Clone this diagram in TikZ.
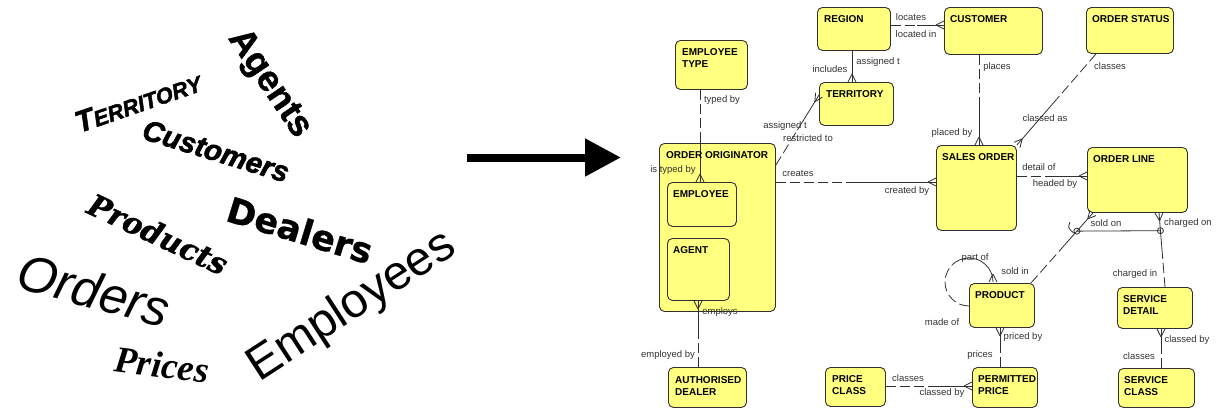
\documentclass[tikz,border=0pt]{standalone}
\usepackage{fontspec}
\setmainfont{Liberation Sans}
\newfontfamily\artsans{Liberation Sans}
\newfontfamily\artfat[BoldItalicFeatures={FakeBold=2}, BoldFeatures={FakeBold=1.2}]{Liberation Sans}
\newfontfamily\artserif{Liberation Serif}
\newfontfamily\artheavy[BoldFeatures={FakeBold=0.8}]{DejaVu Sans}
\newfontfamily\artscript[BoldItalicFeatures={FakeBold=1.2}]{DejaVu Serif}
\usetikzlibrary{calc,arrows.meta,decorations.markings}

\definecolor{entfill}{HTML}{FFFF80}
\definecolor{entline}{HTML}{303030}
\definecolor{reltext}{HTML}{333333}

\tikzset{
  ent/.style={draw=entline, fill=entfill, rounded corners=5pt, line width=0.9pt,
    anchor=north west, inner sep=0pt},
  title/.style={anchor=north west, inner sep=0pt, align=left, text=black,
    font=\bfseries\fontsize{10}{12}\selectfont},
  rel/.style={inner sep=0pt, text=reltext, font=\fontsize{9.5}{11}\selectfont},
  mand/.style={draw=entline, line width=0.8pt},
  opt/.style={draw=entline, line width=0.8pt, dash pattern=on 10pt off 4pt},
  crowend/.style={postaction={decorate, decoration={markings,
    mark=at position 1 with {\draw[solid, entline, line width=0.8pt]
      (-8pt,0pt) -- (0pt,4pt) (-8pt,0pt) -- (0pt,-4pt);}}}},
  art/.style={inner sep=0pt, text=black},
}

% relationship line: optional (dashed) half at #1, mandatory half with crow's foot at #2
\newcommand\erline[2]{%
  \draw[opt] (#1) -- ($(#1)!.5!(#2)$);
  \draw[mand, crowend] ($(#1)!.5!(#2)$) -- (#2);}

\begin{document}
\begin{tikzpicture}[x=1pt, y=-1pt]
\useasboundingbox (0,0) rectangle (1218,408);

% ---------- word cloud ----------
\node[art, rotate=19, font=\artfat\bfseries\itshape] (w-ter) at (138,102)
  {{\fontsize{30}{30}\selectfont T}{\fontsize{22}{22}\selectfont ERRITORY}};
\node[art, rotate=-56, font=\artfat\bfseries\fontsize{36}{36}\selectfont] (w-agt) at (269,84) {Agents};
\node[art, rotate=-17, font=\artfat\bfseries\itshape\fontsize{29}{29}\selectfont] (w-cus) at (216,151) {Customers};
\node[art, rotate=-25, font=\artscript\bfseries\itshape\fontsize{30}{30}\selectfont] (w-prd) at (158,234) {Products};
\node[art, rotate=-17, font=\artheavy\bfseries\fontsize{35}{35}\selectfont] (w-dlr) at (300,230) {Dealers};
\node[art, rotate=-15, font=\artsans\itshape\fontsize{51}{51}\selectfont] (w-ord) at (94,290) {Orders};
\node[art, rotate=-7, font=\artserif\bfseries\itshape\fontsize{37}{37}\selectfont] (w-prc) at (162,365) {Prices};
\node[art, rotate=33, font=\artsans\fontsize{48}{48}\selectfont] (w-emp) at (352,307) {Employees};

% ---------- big arrow ----------
\coordinate (arr-a) at (467,157.5);
\coordinate (arr-b) at (621,157.5);
\draw[line width=8pt, -{Triangle[length=36pt, width=36pt]}] (arr-a) -- (arr-b);

% ---------- entities ----------
\node[ent, minimum width=72pt,  minimum height=49pt]  (et)   at (675,40)  {};
\node[ent, minimum width=73pt,  minimum height=43pt]  (reg)  at (817,7)   {};
\node[ent, minimum width=74pt,  minimum height=43pt]  (ter)  at (819,82)  {};
\node[ent, minimum width=116pt, minimum height=168pt] (oo)   at (659,143) {};
\node[ent, minimum width=69pt,  minimum height=44pt]  (emp)  at (667,182) {};
\node[ent, minimum width=62pt,  minimum height=62pt]  (agt)  at (667,238) {};
\node[ent, minimum width=78pt,  minimum height=40pt]  (ad)   at (668,367) {};
\node[ent, minimum width=60pt,  minimum height=39pt]  (pc)   at (825,367) {};
\node[ent, minimum width=98pt,  minimum height=47pt]  (cus)  at (944,7)   {};
\node[ent, minimum width=87pt,  minimum height=46pt]  (os)   at (1086,7)  {};
\node[ent, minimum width=80pt,  minimum height=85pt]  (so)   at (936,145) {};
\node[ent, minimum width=100pt, minimum height=65pt]  (ol)   at (1087,147) {};
\node[ent, minimum width=65pt,  minimum height=44pt]  (prod) at (969,283) {};
\node[ent, minimum width=75pt,  minimum height=41pt]  (sd)   at (1117,287) {};
\node[ent, minimum width=65pt,  minimum height=40pt]  (pp)   at (972,367) {};
\node[ent, minimum width=76pt,  minimum height=39pt]  (sc)   at (1118,368) {};

% ---------- relationships ----------
\erline{reg.east |- 0,25}{cus.west |- 0,25}
\draw[mand, crowend] (reg.south -| 852,0) -- (ter.north -| 852,0);
\erline{et.south -| 700,0}{emp.north -| 700,0}
\erline{oo.east |- 0,165}{ter.west |- 0,95}
\erline{oo.east |- 0,182}{so.west |- 0,182}
\erline{cus.south -| 979,0}{so.north -| 979,0}
\erline{os.south -| 1096,0}{so.north east}
\erline{so.east |- 0,176}{ol.west |- 0,176}
\erline{prod.north -| 1031,0}{ol.south -| 1093,0}
\erline{sd.north -| 1165,0}{ol.south -| 1159,0}
\erline{pp.north -| 1000,0}{prod.south -| 1000,0}
\erline{pc.east |- 0,386}{pp.west |- 0,386}
\erline{sc.north -| 1161,0}{sd.south -| 1161,0}
\erline{ad.north -| 698,0}{agt.south -| 698,0}

% recursive "part of / made of" loop on PRODUCT
\draw[opt] (prod.west |- 0,306) arc[start angle=90, end angle=235, radius=24] coordinate (loopmid);
\draw[mand, crowend] (loopmid) arc[start angle=235, end angle=360, radius=24];

% exclusive arc across "sold on" / "charged on"
\coordinate (xa) at ($(ol.south -| 1093,0)!0.26!(prod.north -| 1031,0)$);
\coordinate (xb) at ($(ol.south -| 1159,0)!0.24!(sd.north -| 1165,0)$);
\draw[mand] (xa) -- (xb);
\draw[mand] (xa) circle (3);
\draw[mand] (xb) circle (3);
\draw[mand] ([shift={(-7,-9)}]xa) .. controls ([shift={(-9,-3)}]xa) .. ([shift={(-3,2)}]xa);

% ---------- entity titles ----------
\node[title] (et-t)   at ([shift={(7,8.5)}]et.north west)   {EMPLOYEE\\TYPE};
\node[title] (reg-t)  at ([shift={(7,8.5)}]reg.north west)  {REGION};
\node[title] (ter-t)  at ([shift={(7,8.5)}]ter.north west)  {TERRITORY};
\node[title] (oo-t)   at ([shift={(7,8.5)}]oo.north west)   {ORDER ORIGINATOR};
\node[title] (emp-t)  at ([shift={(6,8.5)}]emp.north west)  {EMPLOYEE};
\node[title] (agt-t)  at ([shift={(6,8.5)}]agt.north west)  {AGENT};
\node[title] (ad-t)   at ([shift={(7,9.5)}]ad.north west)   {AUTHORISED\\DEALER};
\node[title] (pc-t)   at ([shift={(7,8.5)}]pc.north west)   {PRICE\\CLASS};
\node[title] (cus-t)  at ([shift={(6,8.5)}]cus.north west)  {CUSTOMER};
\node[title] (os-t)   at ([shift={(6,8.5)}]os.north west)   {ORDER STATUS};
\node[title] (so-t)   at ([shift={(6,8.5)}]so.north west)   {SALES ORDER};
\node[title] (ol-t)   at ([shift={(6,8.5)}]ol.north west)   {ORDER LINE};
\node[title] (prod-t) at ([shift={(6,8.5)}]prod.north west) {PRODUCT};
\node[title] (sd-t)   at ([shift={(6,8.5)}]sd.north west)   {SERVICE\\DETAIL};
\node[title] (pp-t)   at ([shift={(6,8.5)}]pp.north west)   {PERMITTED\\PRICE};
\node[title] (sc-t)   at ([shift={(6,8.5)}]sc.north west)   {SERVICE\\CLASS};

% ---------- relationship names ----------
\node[rel] (r1)  at (911,17)   {locates};
\node[rel] (r2)  at (916,34)   {located in};
\node[rel] (r3)  at (830,69)   {includes};
\node[rel] (r4)  at (878,62)   {assigned t};
\node[rel] (r5)  at (722,100)  {typed by};
\node[rel] (r6)  at (673,170)  {is typed by};
\node[rel] (r7)  at (785,126)  {assigned t};
\node[rel] (r8)  at (808,138)  {restricted to};
\node[rel] (r9)  at (798,173)  {creates};
\node[rel] (r10) at (907,191)  {created by};
\node[rel] (r11) at (997,67)   {places};
\node[rel] (r12) at (952,133)  {placed by};
\node[rel] (r13) at (1110,66)  {classes};
\node[rel] (r14) at (1045,118) {classed as};
\node[rel] (r15) at (1039,167) {detail of};
\node[rel] (r16) at (1055,184) {headed by};
\node[rel] (r17) at (1106,223) {sold on};
\node[rel] (r18) at (1188,223) {charged on};
\node[rel] (r19) at (975,258)  {part of};
\node[rel] (r20) at (1015,271) {sold in};
\node[rel] (r21) at (1135,274) {charged in};
\node[rel] (r22) at (942,322)  {made of};
\node[rel] (r23) at (1023,337) {priced by};
\node[rel] (r24) at (980,355)  {prices};
\node[rel] (r25) at (1187,340) {classed by};
\node[rel] (r26) at (1139,356) {classes};
\node[rel] (r27) at (908,378)  {classes};
\node[rel] (r28) at (942,393)  {classed by};
\node[rel] (r29) at (720,312)  {employs};
\node[rel] (r30) at (668,355)  {employed by};
\end{tikzpicture}
\end{document}
